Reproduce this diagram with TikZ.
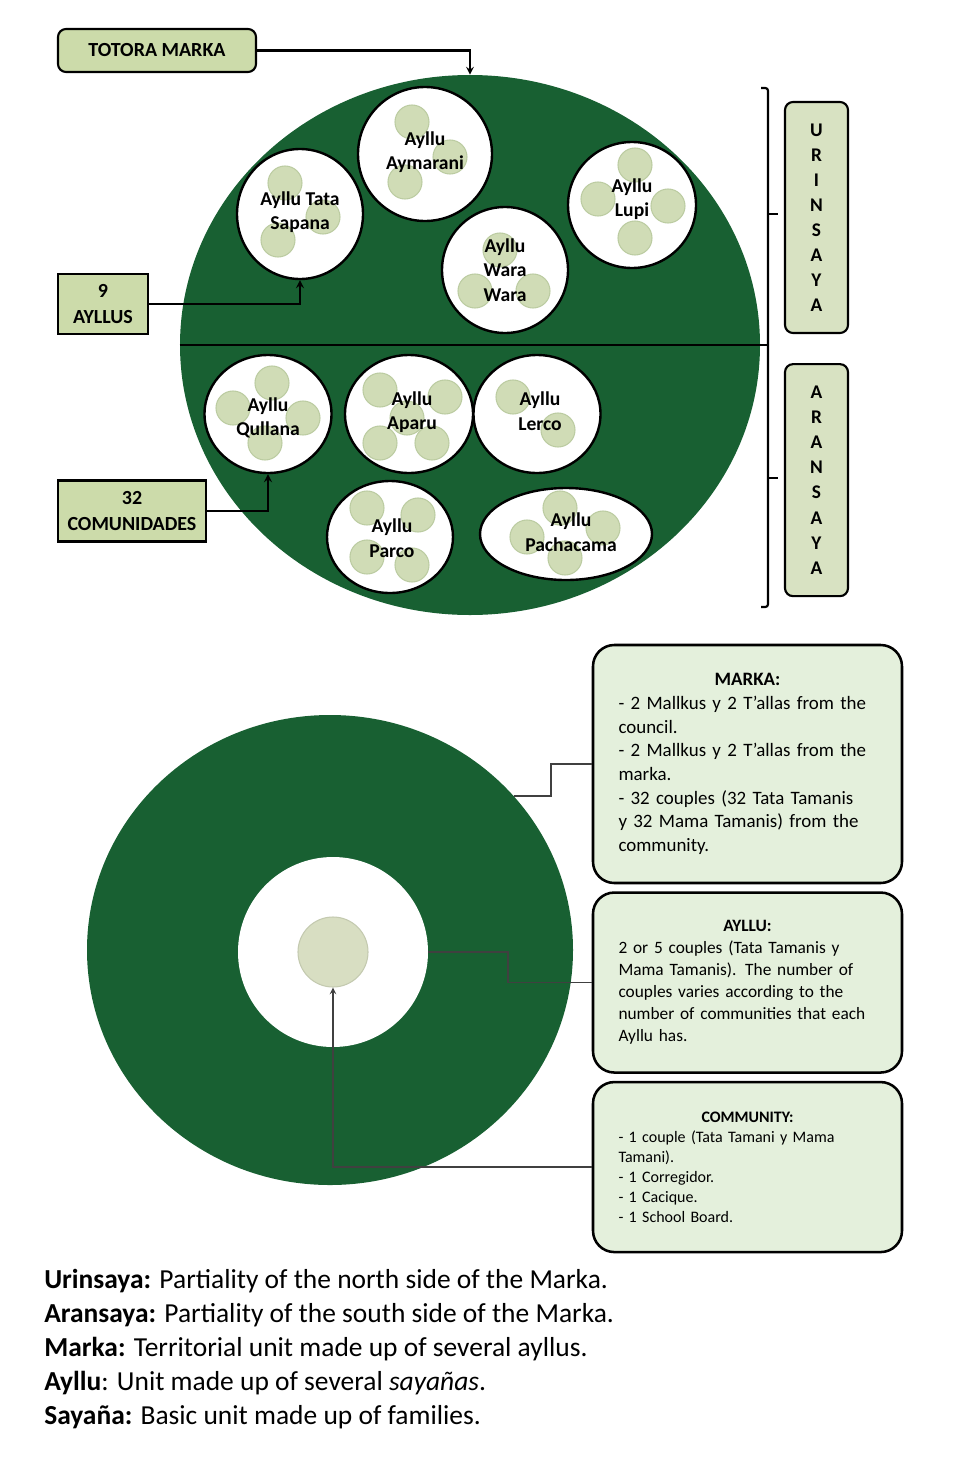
\documentclass[tikz,border=0pt]{standalone}
\usepackage{fontspec}
\setmainfont{Carlito}
\usetikzlibrary{positioning, arrows, shapes.geometric}
\setlength{\parindent}{0pt}
\newdimen\pxu
\pxu=0.75pt
\definecolor{markagreen}{RGB}{24,96,50}
\definecolor{labelgreen}{RGB}{204,219,170}
\definecolor{sayagreen}{RGB}{208,220,182}
\definecolor{sayaedge}{RGB}{188,204,162}
\definecolor{sidegreen}{RGB}{216,226,194}
\definecolor{infogreen}{RGB}{228,240,220}
\definecolor{dotgreen}{RGB}{216,222,194}
\definecolor{dotedge}{RGB}{196,202,176}
\newcommand{\sayr}{17\pxu}
\tikzset{
    tag_box/.style={rectangle, rounded corners=6pt, fill=labelgreen, draw=black, line width=1.6pt, inner sep=0pt, font=\bfseries\fontsize{15}{19.5}\selectfont, align=center},
    count_box/.style={rectangle, fill=labelgreen, draw=black, line width=1.6pt, inner sep=0pt, font=\bfseries\fontsize{15}{19.5}\selectfont, align=center},
    side_box/.style={rectangle, rounded corners=6pt, fill=sidegreen, draw=black, line width=1.6pt, minimum width=63\pxu, inner sep=0pt, font=\bfseries\fontsize{14.5}{18.8}\selectfont, align=center},
    ayllu_shape/.style={ellipse, fill=white, draw=black, line width=1.8pt, inner sep=0pt},
    ayllu_text/.style={font=\bfseries\fontsize{14.7}{18.5}\selectfont, align=center, inner sep=0pt},
    sayana/.style={fill=sayagreen, draw=sayaedge, line width=0.8pt},
    info_box/.style={rectangle, rounded corners=16pt, fill=infogreen, draw=black, line width=1.9pt, minimum width=309\pxu, text width=258\pxu, align=left},
    arrow/.style={line width=1.6pt, ->, >=stealth},
    thin_arrow/.style={line width=1.2pt, draw=black!75, ->, >=stealth},
    line/.style={line width=1.6pt},
    thin_line/.style={line width=1.2pt, draw=black!75},
    legend_text/.style={anchor=base west, inner sep=0pt, font=\fontsize{20.6}{25}\selectfont},
}

\begin{document}
\begin{tikzpicture}[x=0.75pt, y=-0.75pt]
            \useasboundingbox (0,0) rectangle (980,1460);
            %%%%%%%%%%%%%%%%
            % TOTORA MARKA %
            %%%%%%%%%%%%%%%%
            \node (marka) [ellipse, fill=markagreen, inner sep=0pt, minimum width=580\pxu, minimum height=540\pxu] at (470,345) {};
            \node (totora) [tag_box, minimum width=198\pxu, minimum height=43\pxu] at (157,50.5)
                    {TOTORA MARKA};
            \draw [arrow] (totora.east) -| (marka.north);

            \coordinate (brace_top) at (768,88);
            \coordinate (brace_mid) at (768,345);
            \coordinate (brace_bot) at (768,607);
            \draw [line] (marka.west) -- (brace_mid);
            \draw [line, rounded corners=2pt] ([xshift=-7\pxu]brace_top) -- (brace_top) -- (brace_bot) -- ([xshift=-7\pxu]brace_bot);
            \draw [line] (768,214) -- (778,214);
            \draw [line] (768,478) -- (778,478);

            \node (urinsaya) [side_box, minimum height=231\pxu] at (816.5,217.5)
                    {U\\R\\I\\N\\S\\A\\Y\\A};
            \node (aransaya) [side_box, minimum height=232\pxu, below=29\pxu of urinsaya]
                    {A\\R\\A\\N\\S\\A\\Y\\A};

            %%%%%%%%%%%%%
            % URINSAYA  %
            %%%%%%%%%%%%%
            \node (aymarani) [ayllu_shape, minimum width=134\pxu, minimum height=134\pxu] at (425,154) {};
            \node (sapana) [ayllu_shape, minimum width=126\pxu, minimum height=130\pxu] at (300,214) {};
            \node (lupi) [ayllu_shape, minimum width=128\pxu, minimum height=126\pxu] at (632,205) {};
            \node (warawara) [ayllu_shape, minimum width=126\pxu, minimum height=126\pxu] at (505,270) {};

            \path [sayana] (412,122) circle (\sayr) (450,157) circle (\sayr) (405,182) circle (\sayr);
            \path [sayana] (285,183) circle (\sayr) (323,217) circle (\sayr) (278,240) circle (\sayr);
            \path [sayana] (635,165) circle (\sayr) (598,199) circle (\sayr) (668,206) circle (\sayr) (635,238) circle (\sayr);
            \path [sayana] (500,250) circle (\sayr) (475,291) circle (\sayr) (533,291) circle (\sayr);

            \node (aymarani_txt) [ayllu_text] at (425,152) {Ayllu\\Aymarani};
            \node (sapana_txt) [ayllu_text] at (300,212) {Ayllu Tata\\Sapana};
            \node (lupi_txt) [ayllu_text] at (632,199) {Ayllu\\Lupi};
            \node (warawara_txt) [ayllu_text] at (505,270) {Ayllu\\Wara\\Wara};

            %%%%%%%%%%%%%
            % ARANSAYA  %
            %%%%%%%%%%%%%
            \node (qullana) [ayllu_shape, minimum width=127\pxu, minimum height=118\pxu] at (268,414) {};
            \node (aparu) [ayllu_shape, minimum width=128\pxu, minimum height=118\pxu] at (409,414) {};
            \node (lerco) [ayllu_shape, minimum width=127\pxu, minimum height=118\pxu] at (537,414) {};
            \node (parco) [ayllu_shape, minimum width=126\pxu, minimum height=112\pxu] at (390,537) {};
            \node (pachacama) [ayllu_shape, minimum width=172\pxu, minimum height=92\pxu] at (566,534) {};

            \path [sayana] (272,383) circle (\sayr) (233,408) circle (\sayr) (303,418) circle (\sayr) (265,443) circle (\sayr);
            \path [sayana] (380,390) circle (\sayr) (445,397) circle (\sayr) (407,418) circle (\sayr) (380,443) circle (\sayr) (432,443) circle (\sayr);
            \path [sayana] (513,397) circle (\sayr) (558,430) circle (\sayr);
            \path [sayana] (367,508) circle (\sayr) (418,515) circle (\sayr) (367,557) circle (\sayr) (412,565) circle (\sayr);
            \path [sayana] (560,508) circle (\sayr) (527,537) circle (\sayr) (603,528) circle (\sayr) (565,558) circle (\sayr);

            \node (qullana_txt) [ayllu_text] at (268,418) {Ayllu\\Qullana};
            \node (aparu_txt) [ayllu_text] at (412,412) {Ayllu\\Aparu};
            \node (lerco_txt) [ayllu_text] at (540,411) {Ayllu\\Lerco};
            \node (parco_txt) [ayllu_text] at (392,538) {Ayllu\\Parco};
            \node (pachacama_txt) [ayllu_text] at (571,532) {Ayllu\\Pachacama};

            \node (ayllus) [count_box, minimum width=90\pxu, minimum height=60\pxu] at (103,304)
                    {9\\AYLLUS};
            \node (comunidades) [count_box, minimum width=148\pxu, minimum height=61\pxu] at (132,511)
                    {32\\COMUNIDADES};
            \draw [arrow] (ayllus.east) -| (sapana.south);
            \draw [arrow] (comunidades.east) -| (qullana.south);

            %%%%%%%%%%%%%%%%%
            % AUTHORITIES   %
            %%%%%%%%%%%%%%%%%
            \node (ring) [ellipse, fill=markagreen, inner sep=0pt, minimum width=486\pxu, minimum height=470\pxu] at (330,950) {};
            \node (hole) [circle, fill=white, inner sep=0pt, minimum size=190\pxu] at (333,952) {};
            \node (dot) [circle, fill=dotgreen, draw=dotedge, line width=0.8pt, inner sep=0pt, minimum size=70\pxu] at (333,952) {};

            \node (marka_box) [info_box, minimum height=238\pxu, font=\fontsize{14.2}{17.8}\selectfont] at (747.5,764)
                    {{\centering\textbf{MARKA:}\par}\raggedright
                     - 2 Mallkus y 2 T’allas from the\\
                     council.\\
                     - 2 Mallkus y 2 T’allas from the\\
                     marka.\\
                     - 32 couples (32 Tata Tamanis\\
                     y 32 Mama Tamanis) from the\\
                     community.};
            \node (ayllu_box) [info_box, minimum height=180\pxu, font=\fontsize{13}{16.5}\selectfont, below=7\pxu of marka_box]
                    {{\centering\textbf{AYLLU:}\par}\raggedright
                     2 or 5 couples (Tata Tamanis y\\
                     Mama Tamanis). The number of\\
                     couples varies according to the\\
                     number of communities that each\\
                     Ayllu has.};
            \node (community_box) [info_box, minimum height=170\pxu, font=\fontsize{12}{15}\selectfont, below=7\pxu of ayllu_box]
                    {{\centering\textbf{COMMUNITY:}\par}\raggedright
                     - 1 couple (Tata Tamani y Mama\\
                     Tamani).\\
                     - 1 Corregidor.\\
                     - 1 Cacique.\\
                     - 1 School Board.};

            \draw [thin_line] (ring.40) -- ++(37,0) |- (marka_box.west);
            \draw [thin_line] (hole.east) -- ++(80,0) |- (ayllu_box.west);
            \draw [thin_arrow] (community_box.west) -| (dot.south);

            %%%%%%%%%%
            % LEGEND %
            %%%%%%%%%%
            \node (leg_urin) [legend_text] at (44,1288)
                    {\textbf{Urinsaya:} Partiality of the north side of the Marka.};
            \node (leg_aran) [legend_text] at (44,1322)
                    {\textbf{Aransaya:} Partiality of the south side of the Marka.};
            \node (leg_marka) [legend_text] at (44,1356)
                    {\textbf{Marka:} Territorial unit made up of several ayllus.};
            \node (leg_ayllu) [legend_text] at (44,1390)
                    {\textbf{Ayllu}: Unit made up of several \textit{sayañas}.};
            \node (leg_saya) [legend_text] at (44,1424)
                    {\textbf{Sayaña:} Basic unit made up of families.};
      \end{tikzpicture}
\end{document}
